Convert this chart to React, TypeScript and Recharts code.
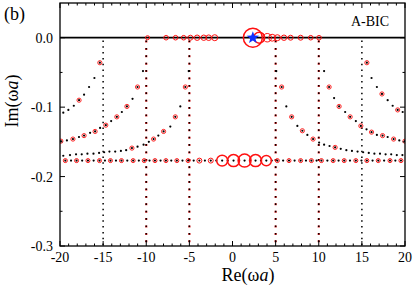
import React from 'react';
import { ScatterChart, Scatter, XAxis, YAxis, ZAxis } from 'recharts';

// axis ticks (minor every 1 / 0.05, labels on the majors)
const xTicks = [
  -20, -19, -18, -17, -16, -15, -14, -13, -12, -11, -10, -9, -8, -7, -6, -5, -4, -3, -2, -1, 0,
  1, 2, 3, 4, 5, 6, 7, 8, 9, 10, 11, 12, 13, 14, 15, 16, 17, 18, 19, 20,
];
const xLabels = [-20, -15, -10, -5, 0, 5, 10, 15, 20];
const yTicks = [-0.3, -0.25, -0.2, -0.15, -0.1, -0.05, 0];
const yLabels = [-0.3, -0.2, -0.1, 0];

// real axis (Im = 0)
const realAxisX = [-20, 20];
const realAxisRingX = [-9.85, -7.7, -6.6, -5.66, -4.88, -4.1, -3.33, -2.76, -2.06, 2.36, 3.1, 4.03, 4.6, 5.2, 5.97, 6.74, 7.9, 9.07, 10.03];
const realAxisRingW = [4, 5.3, 5.3, 5.3, 6.2, 7.3, 7.3, 7.8, 9, 90, 30, 18, 12, 9, 7.3, 6.2, 6.2, 5.3, 5.3];
const bicX = [2.36];

// vertical pole strings
const redStringsX = [-10, -5, 5, 10];
const blackStringsX = [-15, 15];
const stringY = [-0.004, -0.3];

// horizontal row near Im = -0.177
const rowY = -0.177;
const rowDotX = [
  -19.38, -18.72, -18.08, -17.43, -16.76, -16.1, -15.42, -14.79, -14.15, -13.51, -12.87, -12.2, -11.52,
  -10.86, -10.23, -9.62, -8.99, -8.34, -7.72, -7.1, -6.45, -5.8, -5.15, -4.5, -3.84, -3.2, -2.52, -1.88,
  -1.2, -0.55, 0.12, 0.76, 1.4, 2.03, 2.67, 3.3, 3.92, 4.55, 5.2, 5.87, 6.55, 7.2, 7.9, 8.52, 9.15,
  9.75, 10.31, 11.0, 11.67, 12.3, 12.95, 13.62, 14.3, 14.95, 15.58, 16.24, 16.9, 17.58, 18.26, 18.88, 19.53,
];
const rowRingX = [
  -19.38, -18.08, -16.76, -15.42, -14.15, -12.87, -11.52, -10.23, -8.99, -7.72, -6.45, -5.15, -3.84, -2.52,
  -1.2, 0.12, 1.4, 2.67, 3.92, 5.2, 6.55, 7.9, 9.15, 10.31, 11.67, 12.95, 14.3, 15.58, 16.9, 18.26, 19.53,
];
const rowRingW = [
  4, 4, 4, 4, 4, 4, 4, 4, 4, 4, 4, 4, 6.2, 6.2,
  30, 36, 42, 36, 26, 4, 4, 4, 4, 4, 4, 4, 4, 4, 4, 4, 4,
];

// bent branches (pairs of Re, Im)
const branchA: [number, number][] = [
  [-19.62, -0.108], [-19.03, -0.104], [-18.4, -0.098], [-17.79, -0.09], [-17.21, -0.082], [-16.63, -0.071],
  [-16.01, -0.058], [-15.38, -0.036],
  [15.58, -0.036], [16.12, -0.058], [16.74, -0.071], [17.33, -0.081], [17.99, -0.09], [18.57, -0.098],
  [19.15, -0.104], [19.73, -0.107],
];
const branchB: [number, number][] = [
  [-19.9, -0.149], [-19.2, -0.148], [-18.5, -0.146], [-17.8, -0.143], [-17.21, -0.141], [-16.51, -0.137],
  [-15.93, -0.135], [-15.35, -0.13], [-14.69, -0.126], [-14.07, -0.12], [-13.41, -0.114], [-12.83, -0.107],
  [-12.24, -0.099], [-11.59, -0.088], [-11.01, -0.071], [-10.38, -0.048],
  [10.62, -0.048], [11.2, -0.071], [11.78, -0.087], [12.36, -0.099], [13.06, -0.107], [13.64, -0.114],
  [14.3, -0.12], [14.88, -0.127], [15.54, -0.132], [16.12, -0.136], [16.74, -0.14], [17.4, -0.141],
  [17.99, -0.143], [18.68, -0.146], [19.34, -0.148], [20, -0.149],
];
const branchC: [number, number][] = [
  [-19.62, -0.17], [-18.84, -0.169], [-18.14, -0.168], [-17.48, -0.168], [-16.82, -0.167], [-16.12, -0.167],
  [-15.47, -0.166], [-14.88, -0.165], [-14.27, -0.164], [-13.6, -0.164], [-12.94, -0.163], [-12.33, -0.162],
  [-11.66, -0.159], [-11.01, -0.157], [-10.31, -0.154], [-9.7, -0.15], [-9.15, -0.146], [-8.6, -0.141],
  [-7.99, -0.135], [-7.21, -0.128], [-6.63, -0.114], [-6.05, -0.099], [-5.47, -0.071], [-5.08, -0.048],
  [5.08, -0.048], [5.7, -0.071], [6.24, -0.099], [6.86, -0.114], [7.52, -0.127], [8.1, -0.134],
  [8.68, -0.14], [9.34, -0.146], [10.04, -0.151], [10.62, -0.154], [11.25, -0.156], [11.9, -0.158],
  [12.55, -0.16], [13.2, -0.162], [13.85, -0.163], [14.5, -0.164], [15.15, -0.165], [15.8, -0.166],
  [16.45, -0.167], [17.1, -0.167], [17.75, -0.168], [18.4, -0.168], [19.05, -0.169], [19.7, -0.169],
];
const branchRings: [number, number][] = [
  [-17.79, -0.09], [-15.38, -0.036], [15.58, -0.036], [17.33, -0.081], [19.15, -0.104],
  [-19.9, -0.149], [-18.5, -0.146], [-17.21, -0.141], [-15.93, -0.135], [-14.69, -0.126], [-13.41, -0.114],
  [-12.24, -0.099], [-11.01, -0.071],
  [11.2, -0.071], [12.36, -0.099], [13.64, -0.114], [14.88, -0.127], [16.12, -0.136], [17.4, -0.141],
  [18.68, -0.146], [20, -0.149],
  [-11.66, -0.159], [-9.15, -0.146], [-7.99, -0.135], [-6.63, -0.114], [-5.47, -0.071],
  [5.7, -0.071], [6.86, -0.114], [8.1, -0.134], [9.34, -0.146], [11.9, -0.158],
];

const W = 415;
const H = 289;
const LEFT = 60;
const RIGHT = 405;
const TOP = 3;
const BOTTOM = 246;
const RED = '#ff1010';
const FONT = '"Liberation Serif", "Times New Roman", serif';

const pts = (pairs: [number, number][]) => pairs.map(([x, y]) => ({ x, y }));
const isMajor = (v: number, list: number[]) => list.some((t) => Math.abs(t - v) < 1e-9);

const Hidden = () => <g />;
const Dot = (p: any) => <circle cx={p.cx} cy={p.cy} r={1.1} fill="#000" />;
const SmallRing = (p: any) => <circle cx={p.cx} cy={p.cy} r={2.1} fill="none" stroke={RED} strokeWidth={0.9} />;
const Ring = (p: any) => (
  <circle cx={p.cx} cy={p.cy} r={p.width / 2} fill="none" stroke={RED} strokeWidth={p.width > 10 ? 1.5 : 1} />
);
const Star = (p: any) => {
  const r1 = 6.5;
  const r2 = 2.7;
  const pts: string[] = [];
  for (let i = 0; i < 10; i++) {
    const r = i % 2 === 0 ? r1 : r2;
    const a = -Math.PI / 2 + (i * Math.PI) / 5;
    pts.push(`${p.cx + r * Math.cos(a)},${p.cy + r * Math.sin(a)}`);
  }
  return <polygon points={pts.join(' ')} fill="#1030ff" />;
};

const XTick = (p: any) => {
  const v = p.payload.value;
  const major = isMajor(v, xLabels);
  const len = major ? 5 : 2.5;
  return (
    <g>
      <line x1={p.x} x2={p.x} y1={BOTTOM} y2={BOTTOM - len} stroke="#000" />
      <line x1={p.x} x2={p.x} y1={TOP} y2={TOP + len} stroke="#000" />
      {major && (
        <text x={p.x} y={BOTTOM + 16} textAnchor="middle" fontFamily={FONT} fontSize={14} fill="#000">
          {v}
        </text>
      )}
    </g>
  );
};

const YTick = (p: any) => {
  const v = p.payload.value;
  const major = isMajor(v, yLabels);
  const len = major ? 5 : 2.5;
  return (
    <g>
      <line x1={LEFT} x2={LEFT + len} y1={p.y} y2={p.y} stroke="#000" />
      <line x1={RIGHT} x2={RIGHT - len} y1={p.y} y2={p.y} stroke="#000" />
      {major && (
        <text x={LEFT - 7} y={p.y + 5} textAnchor="end" fontFamily={FONT} fontSize={14} fill="#000">
          {v.toFixed(1)}
        </text>
      )}
    </g>
  );
};

export default function App() {
  const ringData = realAxisRingX.map((x, i) => ({ x, y: 0, w: realAxisRingW[i] }));
  const rowRings = rowRingX.map((x, i) => ({ x, y: rowY, w: rowRingW[i] }));
  const rowDots = rowDotX.map((x) => ({ x, y: rowY }));

  return (
    <div style={{ position: 'fixed', left: 0, top: 0, width: W, height: H, background: '#fff' }}>
      <ScatterChart width={W} height={H} margin={{ top: TOP, right: W - RIGHT, left: 0, bottom: H - BOTTOM - 30 }}>
        <XAxis
          type="number"
          dataKey="x"
          domain={[-20, 20]}
          ticks={xTicks}
          interval={0}
          height={30}
          axisLine={false}
          tickLine={false}
          tick={<XTick />}
          allowDataOverflow
        />
        <YAxis
          type="number"
          dataKey="y"
          domain={[-0.3, 0.05]}
          ticks={yTicks}
          interval={0}
          width={LEFT}
          axisLine={false}
          tickLine={false}
          tick={<YTick />}
          allowDataOverflow
        />
        <ZAxis zAxisId="w" type="number" dataKey="w" domain={[0, 100]} range={[0, 100 * Math.PI]} />

        {blackStringsX.map((x) => (
          <Scatter
            key={'bs' + x}
            data={stringY.map((y) => ({ x, y }))}
            line={{ stroke: '#000', strokeWidth: 1.5, strokeDasharray: '1.5 4.3' }}
            shape={Hidden}
            isAnimationActive={false}
          />
        ))}
        {redStringsX.map((x) => (
          <Scatter
            key={'rs' + x}
            data={stringY.map((y) => ({ x, y }))}
            line={{ stroke: '#e02020', strokeWidth: 2.2, strokeDasharray: '2 5.4' }}
            shape={Hidden}
            isAnimationActive={false}
          />
        ))}
        {redStringsX.map((x) => (
          <Scatter
            key={'rk' + x}
            data={stringY.map((y) => ({ x, y }))}
            line={{ stroke: '#000', strokeWidth: 1.4, strokeDasharray: '1.6 5.8' }}
            shape={Hidden}
            isAnimationActive={false}
          />
        ))}

        <Scatter
          data={realAxisX.map((x) => ({ x, y: 0 }))}
          line={{ stroke: '#000', strokeWidth: 1.8 }}
          shape={Hidden}
          isAnimationActive={false}
        />

        <Scatter data={pts(branchA)} shape={Dot} isAnimationActive={false} />
        <Scatter data={pts(branchB)} shape={Dot} isAnimationActive={false} />
        <Scatter data={pts(branchC)} shape={Dot} isAnimationActive={false} />
        <Scatter data={pts(branchRings)} shape={SmallRing} isAnimationActive={false} />

        <Scatter data={rowDots} shape={Dot} isAnimationActive={false} />
        <Scatter data={rowRings} zAxisId="w" shape={Ring} isAnimationActive={false} />

        <Scatter data={ringData} zAxisId="w" shape={Ring} isAnimationActive={false} />
        <Scatter data={bicX.map((x) => ({ x, y: 0 }))} shape={Star} isAnimationActive={false} />
      </ScatterChart>

      <svg width={W} height={H} style={{ position: 'absolute', left: 0, top: 0, pointerEvents: 'none' }}>
        <rect x={LEFT} y={TOP} width={RIGHT - LEFT} height={BOTTOM - TOP} fill="none" stroke="#000" strokeWidth={1.3} />
        <text x={4} y={20} fontFamily={FONT} fontSize={18} fill="#000">
          (b)
        </text>
        <text x={370} y={26} textAnchor="middle" fontFamily={FONT} fontSize={14} fill="#000">
          A-BIC
        </text>
        <text x={248} y={281} textAnchor="middle" fontFamily={FONT} fontSize={18} fill="#000">
          Re(ω<tspan fontStyle="italic">a</tspan>)
        </text>
        <text
          x={0}
          y={0}
          transform="translate(18,101) rotate(-90)"
          textAnchor="middle"
          fontFamily={FONT}
          fontSize={18}
          fill="#000"
        >
          Im(ω<tspan fontStyle="italic">a</tspan>)
        </text>
      </svg>
    </div>
  );
}
